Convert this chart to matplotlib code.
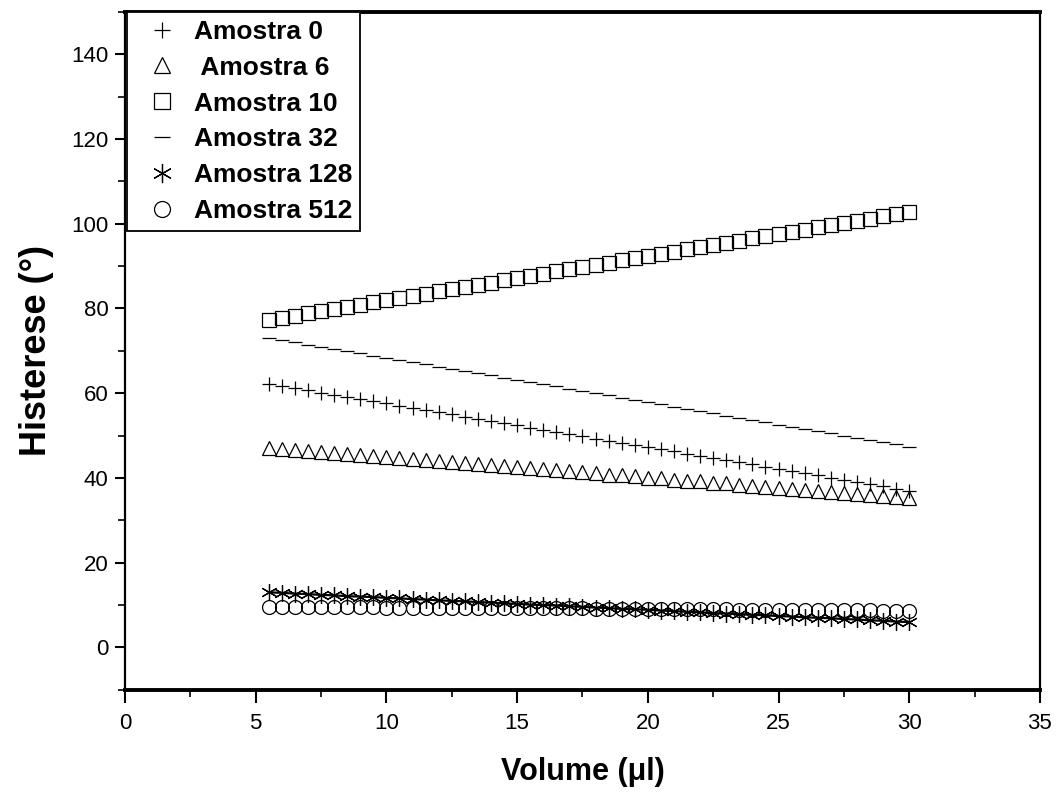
import matplotlib
matplotlib.use("Agg")
import matplotlib.pyplot as plt
from matplotlib.ticker import MultipleLocator

plt.rcParams['font.family'] = ['Liberation Sans', 'DejaVu Sans']

volume = [5.5, 6.0, 6.5, 7.0, 7.5, 8.0, 8.5, 9.0, 9.5, 10.0,
          10.5, 11.0, 11.5, 12.0, 12.5, 13.0, 13.5, 14.0, 14.5, 15.0,
          15.5, 16.0, 16.5, 17.0, 17.5, 18.0, 18.5, 19.0, 19.5, 20.0,
          20.5, 21.0, 21.5, 22.0, 22.5, 23.0, 23.5, 24.0, 24.5, 25.0,
          25.5, 26.0, 26.5, 27.0, 27.5, 28.0, 28.5, 29.0, 29.5, 30.0]

amostra_0 = [62.2, 61.7, 61.2, 60.7, 60.1, 59.6, 59.1, 58.6, 58.1, 57.6,
             57.1, 56.5, 56.0, 55.5, 55.0, 54.5, 54.0, 53.5, 52.9, 52.4,
             51.9, 51.4, 50.9, 50.4, 49.9, 49.3, 48.8, 48.3, 47.8, 47.3,
             46.8, 46.3, 45.7, 45.2, 44.7, 44.2, 43.7, 43.2, 42.7, 42.2,
             41.6, 41.1, 40.6, 40.1, 39.6, 39.1, 38.6, 38.0, 37.5, 37.0]

amostra_6 = [47.1, 46.9, 46.6, 46.4, 46.1, 45.9, 45.7, 45.4, 45.2, 44.9,
             44.7, 44.5, 44.2, 44.0, 43.7, 43.5, 43.2, 43.0, 42.8, 42.5,
             42.3, 42.0, 41.8, 41.6, 41.3, 41.1, 40.8, 40.6, 40.4, 40.1,
             39.9, 39.6, 39.4, 39.2, 38.9, 38.7, 38.4, 38.2, 37.9, 37.7,
             37.5, 37.2, 37.0, 36.7, 36.5, 36.3, 36.0, 35.8, 35.5, 35.3]

amostra_10 = [77.3, 77.8, 78.3, 78.9, 79.4, 79.9, 80.4, 80.9, 81.5, 82.0,
              82.5, 83.0, 83.5, 84.1, 84.6, 85.1, 85.6, 86.1, 86.7, 87.2,
              87.7, 88.2, 88.8, 89.3, 89.8, 90.3, 90.8, 91.4, 91.9, 92.4,
              92.9, 93.4, 94.0, 94.5, 95.0, 95.5, 96.0, 96.6, 97.1, 97.6,
              98.1, 98.6, 99.2, 99.7, 100.2, 100.7, 101.2, 101.8, 102.3, 102.8]

amostra_32 = [73.1, 72.6, 72.1, 71.5, 71.0, 70.5, 69.9, 69.4, 68.9, 68.4,
              67.9, 67.3, 66.8, 66.3, 65.8, 65.2, 64.7, 64.2, 63.7, 63.1,
              62.6, 62.1, 61.6, 61.0, 60.5, 60.0, 59.5, 58.9, 58.4, 57.9,
              57.4, 56.8, 56.3, 55.8, 55.3, 54.7, 54.2, 53.7, 53.2, 52.6,
              52.1, 51.6, 51.1, 50.5, 50.0, 49.5, 49.0, 48.4, 47.9, 47.4]

amostra_128 = [13.0, 12.9, 12.7, 12.6, 12.4, 12.3, 12.1, 12.0, 11.9, 11.7,
               11.6, 11.4, 11.3, 11.1, 11.0, 10.9, 10.7, 10.6, 10.4, 10.3,
               10.1, 10.0, 9.9, 9.7, 9.6, 9.4, 9.3, 9.1, 9.0, 8.9,
               8.7, 8.6, 8.4, 8.3, 8.1, 8.0, 7.9, 7.7, 7.6, 7.4,
               7.3, 7.1, 7.0, 6.9, 6.7, 6.6, 6.4, 6.3, 6.1, 6.0]

amostra_512 = [9.6, 9.6, 9.6, 9.5, 9.5, 9.5, 9.5, 9.5, 9.5, 9.4,
               9.4, 9.4, 9.4, 9.4, 9.3, 9.3, 9.3, 9.3, 9.3, 9.3,
               9.2, 9.2, 9.2, 9.2, 9.2, 9.1, 9.1, 9.1, 9.1, 9.1,
               9.1, 9.0, 9.0, 9.0, 9.0, 9.0, 8.9, 8.9, 8.9, 8.9,
               8.9, 8.9, 8.8, 8.8, 8.8, 8.8, 8.8, 8.7, 8.7, 8.7]

labels = ["Amostra 0", " Amostra 6", "Amostra 10", "Amostra 32",
          "Amostra 128", "Amostra 512"]

fig = plt.figure(figsize=(10.59, 7.92), dpi=100)
ax = fig.add_axes([0.118, 0.129, 0.864, 0.856])

ms = 10
mew = 0.9
common = dict(linestyle='none', color='black', markerfacecolor='none',
              markeredgecolor='black', markeredgewidth=mew, markersize=ms)

ax.plot(volume, amostra_0, marker='+', label=labels[0], **common)
ax.plot(volume, amostra_6, marker='^', label=labels[1], **common)
ax.plot(volume, amostra_10, marker='s', label=labels[2], **common)
ax.plot(volume, amostra_32, marker='_', label=labels[3], **common)
ax.plot(volume, amostra_128, marker=(6, 2, 0), color='black',
        linestyle='-', linewidth=1.6, markeredgecolor='black',
        markeredgewidth=mew, markersize=12, label=labels[4])
ax.plot(volume, amostra_512, marker='o', label=labels[5], **common)

ax.set_xlim(0, 35)
ax.set_ylim(-10, 150)
ax.xaxis.set_major_locator(MultipleLocator(5))
ax.xaxis.set_minor_locator(MultipleLocator(2.5))
ax.yaxis.set_major_locator(MultipleLocator(20))
ax.yaxis.set_minor_locator(MultipleLocator(10))
ax.set_yticks(range(0, 141, 20))

ax.tick_params(axis='x', which='major', direction='out', length=9, width=1.5,
               labelsize=16, pad=8, top=False)
ax.tick_params(axis='y', which='major', direction='out', length=7, width=1.5,
               labelsize=16, pad=5, right=False)
ax.tick_params(which='minor', direction='out', length=5, width=1.2,
               top=False, right=False)

for side in ['left', 'right']:
    ax.spines[side].set_linewidth(1.6)
for side in ['top', 'bottom']:
    ax.spines[side].set_linewidth(2.8)

ax.set_xlabel("Volume (\u03bcl)", fontsize=22, fontweight='bold', labelpad=16)
ax.set_ylabel("Histerese (\u00b0)", fontsize=26, fontweight='bold', labelpad=12)

leg = ax.legend(loc='upper left', bbox_to_anchor=(0.002, 1.0), frameon=True,
                fancybox=False, edgecolor='black', framealpha=1,
                prop={'weight': 'bold', 'size': 19}, borderaxespad=0.0,
                handletextpad=0.15, labelspacing=0.45, handlelength=2.1,
                borderpad=0.3, markerscale=1.15)
leg.get_frame().set_linewidth(1.3)
for h in leg.legend_handles:
    h.set_linestyle('none')

fig.savefig("out.png", dpi=100)
